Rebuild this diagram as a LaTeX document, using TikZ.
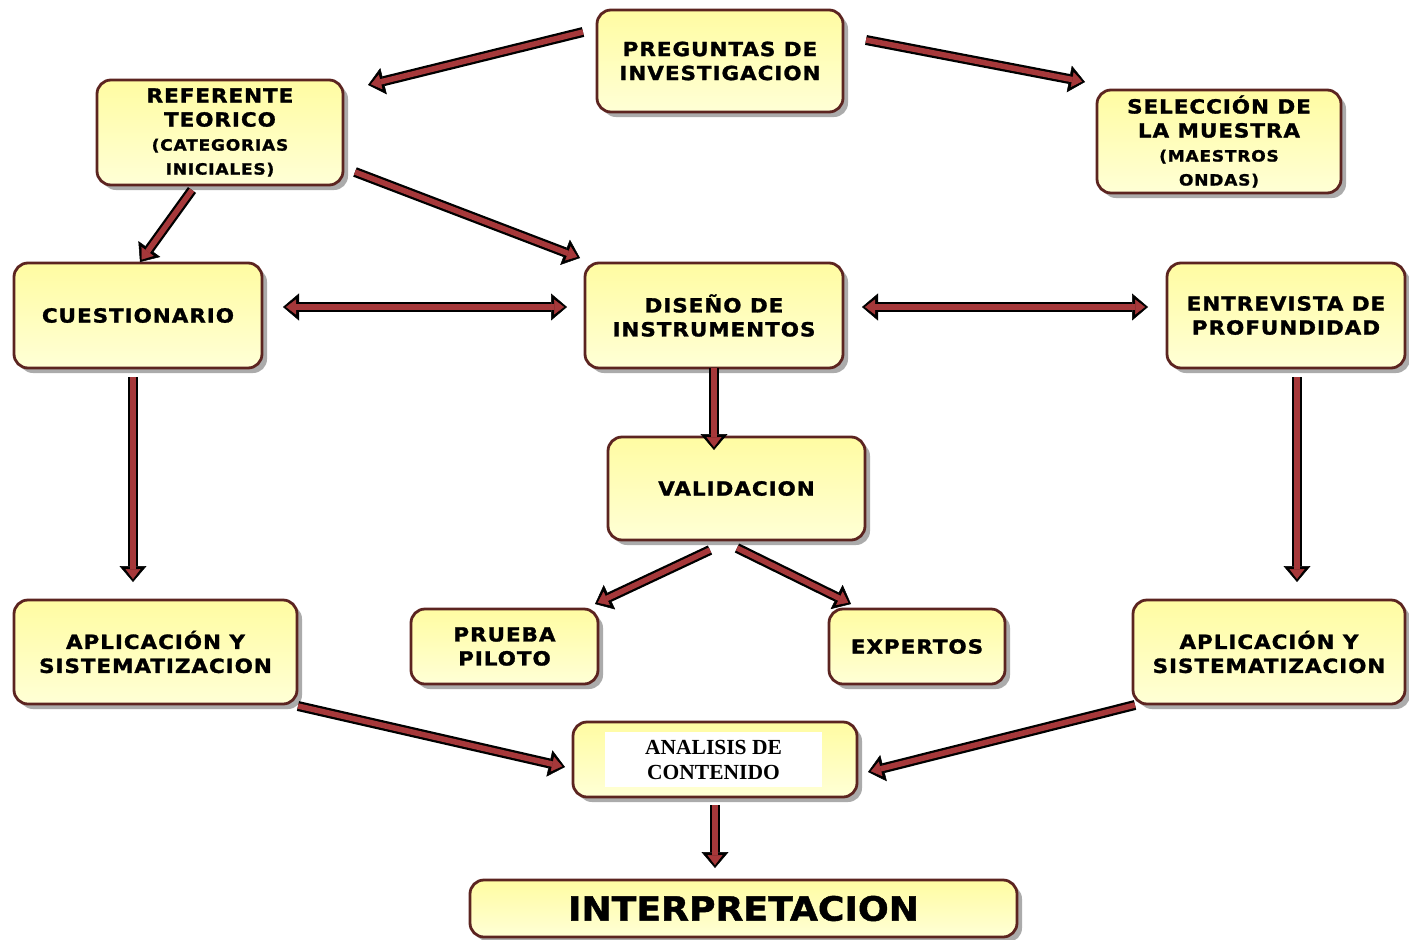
\documentclass[tikz,border=0pt]{standalone}
\usepackage{fontspec}
\usetikzlibrary{arrows.meta,shadows}
\newfontfamily\boxfont{DejaVu Sans}[FakeStretch=1.1,LetterSpace=5,BoldFeatures={FakeBold=1.4}]
\newfontfamily\wordfont{DejaVu Sans}[FakeStretch=1.08,BoldFeatures={FakeBold=1.4}]
\newfontfamily\serifbold{Liberation Serif}
\definecolor{boxline}{RGB}{92,36,32}
\definecolor{boxtop}{RGB}{255,252,162}
\definecolor{boxbot}{RGB}{255,255,214}
\definecolor{arrred}{RGB}{166,56,58}
\newcommand\smtxt{\fontsize{15.5}{23}\selectfont}
\begin{document}
\begin{tikzpicture}[x=1pt,y=-1pt,
  box/.style={draw=boxline, line width=2.8pt, rounded corners=14pt,
    top color=boxtop, bottom color=boxbot,
    drop shadow={shadow xshift=5pt, shadow yshift=-5pt, opacity=.5, fill=black!65},
    align=center, inner sep=0pt,
    font=\boxfont\bfseries\fontsize{19.5}{24}\selectfont},
  arr/.style={line width=5.5pt, draw=arrred,
    -{Triangle[length=10pt,width=15pt,line width=.5pt]}, shorten >=3pt,
    preaction={draw=black, line width=10pt,
      -{Triangle[length=16pt,width=27pt,line width=.5pt]}, shorten >=0pt}},
  arrboth/.style={line width=5.5pt, draw=arrred,
    {Triangle[length=10pt,width=15pt,line width=.5pt]}-{Triangle[length=10pt,width=15pt,line width=.5pt]},
    shorten >=3pt, shorten <=3pt,
    preaction={draw=black, line width=10pt,
      {Triangle[length=16pt,width=27pt,line width=.5pt]}-{Triangle[length=16pt,width=27pt,line width=.5pt]},
      shorten >=0pt, shorten <=0pt}}]
\useasboundingbox[fill=white] (0,0) rectangle (1409,940);

% boxes
\node[box, minimum width=246pt, minimum height=102pt] (preg) at (720,61)
  {PREGUNTAS DE\\INVESTIGACION};
\node[box, minimum width=246pt, minimum height=105pt] (ref) at (220,132.5)
  {REFERENTE\\TEORICO\\{\smtxt (CATEGORIAS}\\{\smtxt INICIALES)}};
\node[box, minimum width=244pt, minimum height=103pt] (sel) at (1219,141.5)
  {SELECCIÓN DE\\LA MUESTRA\\{\smtxt (MAESTROS}\\{\smtxt ONDAS)}};
\node[box, minimum width=248pt, minimum height=105pt] (cues) at (138,315.5)
  {CUESTIONARIO};
\node[box, minimum width=258pt, minimum height=105pt] (dis) at (714,315.5)
  {DISEÑO DE\\INSTRUMENTOS};
\node[box, minimum width=238pt, minimum height=105pt] (ent) at (1286,315.5)
  {ENTREVISTA DE\\PROFUNDIDAD};
\node[box, minimum width=257pt, minimum height=103pt] (val) at (736.5,488.5)
  {VALIDACION};
\node[box, minimum width=187pt, minimum height=75pt] (pru) at (504.5,646.5)
  {PRUEBA\\PILOTO};
\node[box, minimum width=176pt, minimum height=75pt] (exp) at (917,646.5)
  {EXPERTOS};
\node[box, minimum width=283pt, minimum height=104pt] (apl1) at (155.5,652)
  {APLICACIÓN Y\\SISTEMATIZACION};
\node[box, minimum width=272pt, minimum height=104pt] (apl2) at (1269,652)
  {APLICACIÓN Y\\SISTEMATIZACION};
\node[box, minimum width=284pt, minimum height=75pt] (ana) at (715,759.5) {};
\node[fill=white, minimum width=217pt, minimum height=55pt, inner sep=0pt,
  align=center, font=\serifbold\bfseries\fontsize{21.5}{25}\selectfont]
  (anatext) at (713.5,759.5) {ANALISIS DE\\CONTENIDO};
\node[box, minimum width=547pt, minimum height=57pt,
  font=\wordfont\bfseries\fontsize{33.5}{36}\selectfont] (int) at (743.5,908.5)
  {INTERPRETACION};

% connectors
\draw[arr] ([shift={(-137,-29)}]preg.center) -- ([shift={(148,-47.5)}]ref.center);
\draw[arr] ([shift={(146,-21)}]preg.center) -- ([shift={(-134,-59.5)}]sel.center);
\draw[arr] ([shift={(-28,57.5)}]ref.center) -- ([shift={(2,-53.5)}]cues.center);
\draw[arr] ([shift={(135,39.5)}]ref.center) -- ([shift={(-134,-57.5)}]dis.center);
\draw[arrboth] ([shift={(145,-8.5)}]cues.center) -- ([shift={(-147,-8.5)}]dis.center);
\draw[arrboth] ([shift={(148,-8.5)}]dis.center) -- ([shift={(-138,-8.5)}]ent.center);
\draw[arr] ([shift={(0,52.5)}]dis.center) -- ([shift={(-22.5,-38.5)}]val.center);
\draw[arr] ([shift={(-5,61.5)}]cues.center) -- ([shift={(-22.5,-70)}]apl1.center);
\draw[arr] ([shift={(11,61.5)}]ent.center) -- ([shift={(28,-70)}]apl2.center);
\draw[arr] ([shift={(-26.5,61.5)}]val.center) -- ([shift={(90.5,-42.5)}]pru.center);
\draw[arr] ([shift={(0.5,59.5)}]val.center) -- ([shift={(-66,-42.5)}]exp.center);
\draw[arr] ([shift={(142.5,54)}]apl1.center) -- ([shift={(-150,7.5)}]ana.center);
\draw[arr] ([shift={(-134,53)}]apl2.center) -- ([shift={(153,12.5)}]ana.center);
\draw[arr] ([shift={(0,45.5)}]ana.center) -- ([shift={(-28.5,-40.5)}]int.center);
\end{tikzpicture}
\end{document}
